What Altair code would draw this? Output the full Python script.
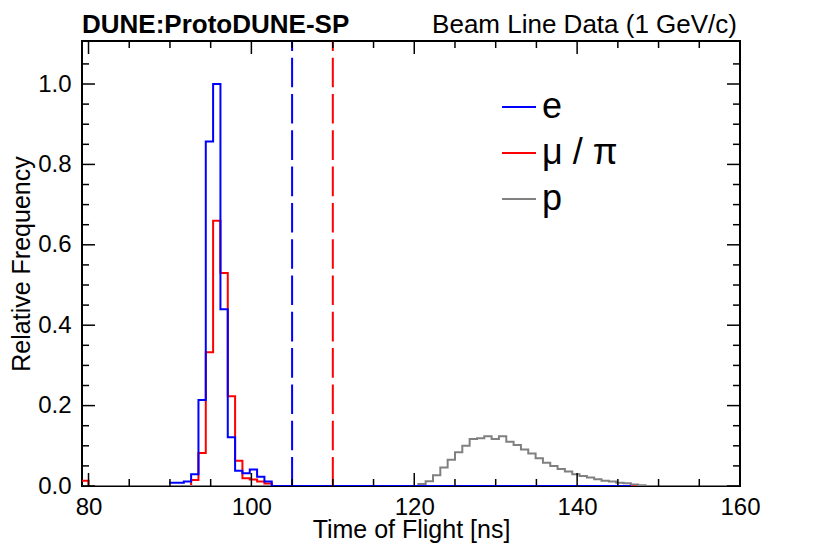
import altair as alt
import pandas as pd

FONT = "Liberation Sans"

# ---- histogram data (relative frequency per 0.9 ns bin) ----
bin_width = 0.9
range_start = 79.1
range_end = 160.0

e_first_edge = 89.9
e_values = [0.008, 0.008, 0.011, 0.029, 0.214, 0.857, 1.0, 0.44, 0.121,
            0.038, 0.032, 0.041, 0.023, 0.011]
e_range_end = 146.6

mu_first_edge = 79.1
mu_values = [0.013, 0, 0, 0, 0, 0, 0, 0, 0, 0, 0, 0, 0, 0, 0,
             0.015, 0.082, 0.333, 0.66, 0.53, 0.223, 0.063, 0.019,
             0.016, 0.011, 0.006]

p_first_edge = 120.5
p_values = [0.005, 0.012, 0.027, 0.046, 0.065, 0.084, 0.1, 0.117, 0.119,
            0.124, 0.117, 0.124, 0.11, 0.102, 0.091, 0.081, 0.069, 0.058,
            0.05, 0.042, 0.036, 0.029, 0.025, 0.021, 0.017, 0.013, 0.011,
            0.008, 0.007, 0.004, 0.002]

series_names = ["e", "μ / π", "p"]
series_colors = ["#0000ff", "#ff0000", "#808080"]

# cut lines
cut_values = [105, 110]
cut_colors = ["#0000ff", "#ff0000"]

# axis ticks
x_major = [80, 100, 120, 140, 160]
x_minor = [85, 90, 95, 105, 110, 115, 125, 130, 135, 145, 150, 155]
y_major = [0.0, 0.2, 0.4, 0.6, 0.8, 1.0]
y_minor = [0.05, 0.1, 0.15, 0.25, 0.3, 0.35, 0.45, 0.5, 0.55, 0.65, 0.7,
           0.75, 0.85, 0.9, 0.95, 1.05]

title_left = "DUNE:ProtoDUNE-SP"
title_right = "Beam Line Data (1 GeV/c)"
x_title = "Time of Flight [ns]"
y_title = "Relative Frequency"

W, H = 658, 445
X_DOMAIN = [79.2, 160]
Y_DOMAIN = [0, 1.107]


def hist_points(name, first_edge, values, start, end):
    rows = []
    if start < first_edge:
        rows.append({"t": start, "f": 0.0, "series": name})
    for i, v in enumerate(values):
        rows.append({"t": round(first_edge + i * bin_width, 3), "f": v, "series": name})
    last = round(first_edge + len(values) * bin_width, 3)
    rows.append({"t": last, "f": 0.0, "series": name})
    if end > last:
        rows.append({"t": end, "f": 0.0, "series": name})
    return pd.DataFrame(rows)


xscale = alt.Scale(domain=X_DOMAIN, nice=False, zero=False)
yscale = alt.Scale(domain=Y_DOMAIN, nice=False, zero=True)
cscale = alt.Scale(domain=series_names, range=series_colors)

x_axis = alt.Axis(values=x_major, ticks=False, domain=False, grid=False,
                  labelFontSize=24, labelFont=FONT, labelColor="black",
                  labelPadding=9, titleFontSize=25, titleFont=FONT,
                  titleFontWeight="normal", titleColor="black", titlePadding=-2,
                  labelFlush=False)
y_axis = alt.Axis(values=y_major, format=".1f", ticks=False, domain=False,
                  grid=False, labelFontSize=24, labelFont=FONT,
                  labelColor="black", labelPadding=11, titleFontSize=25,
                  titleFont=FONT, titleFontWeight="normal", titleColor="black",
                  titlePadding=3, labelFlush=False)

legend = alt.Legend(orient="none", legendX=419, legendY=48, title=None,
                    symbolType="stroke", symbolSize=1156, symbolStrokeWidth=2,
                    labelFontSize=36, labelFont=FONT, labelColor="black",
                    labelOffset=5, rowPadding=10, padding=0)


def hist_layer(df):
    return alt.Chart(df).mark_line(interpolate="step-after", strokeWidth=2,
                                   clip=True).encode(
        x=alt.X("t:Q", scale=xscale, axis=x_axis, title=x_title),
        y=alt.Y("f:Q", scale=yscale, axis=y_axis, title=y_title),
        color=alt.Color("series:N", scale=cscale, legend=legend),
    )


mu_df = hist_points(series_names[1], mu_first_edge, mu_values, range_start, range_end)
p_df = hist_points(series_names[2], p_first_edge, p_values, range_start, range_end)
e_df = hist_points(series_names[0], e_first_edge, e_values, e_first_edge, e_range_end)

cuts = alt.Chart(pd.DataFrame({"t": cut_values, "c": cut_colors})).mark_rule(
    strokeWidth=2, strokeDash=[29.6, 6.7], strokeDashOffset=19.6).encode(
    x=alt.X("t:Q", scale=xscale),
    y=alt.value(0), y2=alt.value(H),
    color=alt.Color("c:N", scale=None),
)


def xticks(vals, length):
    df = pd.DataFrame({"t": vals})
    bot = alt.Chart(df).mark_rule(color="black", strokeWidth=1.5).encode(
        x=alt.X("t:Q", scale=xscale), y=alt.value(H), y2=alt.value(H - length))
    top = alt.Chart(df).mark_rule(color="black", strokeWidth=1.5).encode(
        x=alt.X("t:Q", scale=xscale), y=alt.value(0), y2=alt.value(length))
    return [bot, top]


def yticks(vals, length):
    df = pd.DataFrame({"f": vals})
    left = alt.Chart(df).mark_rule(color="black", strokeWidth=1.5).encode(
        y=alt.Y("f:Q", scale=yscale), x=alt.value(0), x2=alt.value(length))
    right = alt.Chart(df).mark_rule(color="black", strokeWidth=1.5).encode(
        y=alt.Y("f:Q", scale=yscale), x=alt.value(W), x2=alt.value(W - length))
    return [left, right]


tl = alt.Chart(pd.DataFrame({"label": [title_left]})).mark_text(
    align="left", baseline="alphabetic", fontSize=26, fontWeight="bold",
    font=FONT, color="black").encode(
    x=alt.value(0), y=alt.value(-7.7), text="label:N")
tr = alt.Chart(pd.DataFrame({"label": [title_right]})).mark_text(
    align="right", baseline="alphabetic", fontSize=26, font=FONT,
    color="black").encode(
    x=alt.value(W - 3), y=alt.value(-7.7), text="label:N")

layers = [hist_layer(mu_df), hist_layer(p_df), hist_layer(e_df), cuts]
layers += xticks(x_major, 13) + xticks(x_minor, 7)
layers += yticks(y_major, 13) + yticks(y_minor, 7)
layers += [tl, tr]

chart = alt.layer(*layers).properties(
    width=W, height=H,
    autosize=alt.AutoSizeParams(type="none"),
    padding={"left": 74, "top": 33, "right": 74, "bottom": 61},
).configure_view(stroke="black", strokeWidth=2)

chart.save("out.html", embed_options={"renderer": "svg", "actions": False})
